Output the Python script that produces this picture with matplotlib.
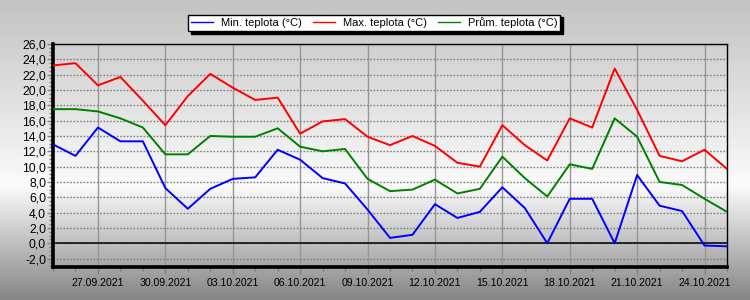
import numpy as np
import pandas as pd
import matplotlib
matplotlib.use("Agg")
import matplotlib.pyplot as plt
import matplotlib.dates as mdates
from matplotlib.ticker import FuncFormatter, MultipleLocator

plt.rcParams['font.family'] = ['Liberation Sans', 'DejaVu Sans']

# Data
dates = pd.date_range('2021-09-25', '2021-10-25', freq='D')

t_min = [12.9, 11.4, 15.1, 13.3, 13.3, 7.2, 4.5, 7.1, 8.4, 8.6, 12.2,
         10.9, 8.5, 7.8, 4.4, 0.7, 1.1, 5.1, 3.3, 4.1, 7.3, 4.6,
         0.0, 5.8, 5.8, 0.0, 8.9, 4.9, 4.2, -0.3, -0.4]
t_max = [23.2, 23.5, 20.6, 21.7, 18.6, 15.4, 19.2, 22.1, 20.3, 18.7, 19.0,
         14.3, 15.9, 16.2, 13.9, 12.8, 14.0, 12.7, 10.5, 10.0, 15.4, 12.8,
         10.8, 16.3, 15.1, 22.8, 17.4, 11.4, 10.7, 12.2, 9.7]
t_avg = [17.5, 17.5, 17.2, 16.3, 15.1, 11.6, 11.6, 14.0, 13.9, 13.9, 15.0,
         12.6, 12.0, 12.3, 8.4, 6.8, 7.0, 8.3, 6.5, 7.1, 11.3, 8.5,
         6.1, 10.3, 9.7, 16.3, 13.9, 8.0, 7.6, 5.8, 4.1]

labels = ['Min. teplota (°C)', 'Max. teplota (°C)', 'Prům. teplota (°C)']
colors = ['#0000ff', '#ff0000', '#008000']

fig = plt.figure(figsize=(7.5, 3.0), dpi=100)

# background gradient
bg = fig.add_axes([0, 0, 1, 1], zorder=-10)
pos = np.linspace(0, 1, 300)
shade = np.interp(pos, [0, 0.62, 1.0], [0.76, 0.98, 0.52])
grad = np.repeat(shade[:, None], 2, axis=1)
bg.imshow(grad, cmap='gray', vmin=0, vmax=1, aspect='auto',
          extent=[0, 1, 0, 1], origin='upper')
bg.set_axis_off()

ax = fig.add_axes([53 / 750, 1 - 266.7 / 300, (727 - 53) / 750, (266.7 - 44) / 300])
ax.patch.set_alpha(0)

for vals, lab, col in zip([t_min, t_max, t_avg], labels, colors):
    ax.plot(dates, vals, color=col, lw=1.4, label=lab, zorder=5)

ax.set_xlim(dates[0], dates[-1])
ax.set_ylim(-3.06, 26.0)

ax.set_yticks(np.arange(-2, 27, 2))
ax.yaxis.set_minor_locator(MultipleLocator(0.5))
ax.yaxis.set_major_formatter(FuncFormatter(lambda v, p: f'{v:.1f}'.replace('.', ',')))

ax.set_xticks(dates[2::3])
ax.set_xticks(dates, minor=True)
ax.xaxis.set_major_formatter(mdates.DateFormatter('%d.%m.%Y'))

ax.tick_params(axis='y', which='major', length=4, width=1, color='#808080',
               pad=1, labelsize=8.7, labelcolor='black')
ax.tick_params(axis='y', which='minor', length=3, width=1, color='#808080')
ax.tick_params(axis='x', which='major', length=5, width=1, color='#808080',
               pad=3, labelsize=7.6, labelcolor='black')
ax.tick_params(axis='x', which='minor', length=3, width=1, color='#808080')

# grid
ax.grid(axis='y', which='major', color='#808080', linestyle=(0, (1.2, 1.2)), lw=1.0)
ax.grid(axis='x', which='major', color='#969696', linestyle='-', lw=1.0)
ax.axhline(0, color='black', lw=1.1, zorder=4)

for side in ['left', 'bottom']:
    ax.spines[side].set_linewidth(2.6)
for side in ['top', 'right']:
    ax.spines[side].set_linewidth(1.0)

leg = ax.legend(loc='upper center', bbox_to_anchor=(0.4987, 0.951),
                bbox_transform=fig.transFigure, ncol=3, frameon=True,
                fancybox=False, framealpha=1, edgecolor='black',
                shadow={'color': 'black', 'alpha': 1}, fontsize=8,
                borderpad=0.25, handlelength=2.0, handletextpad=0.7,
                columnspacing=1.0, borderaxespad=0)
for ln in leg.get_lines():
    ln.set_linewidth(1.0)

fig.savefig('out.png', dpi=100)
